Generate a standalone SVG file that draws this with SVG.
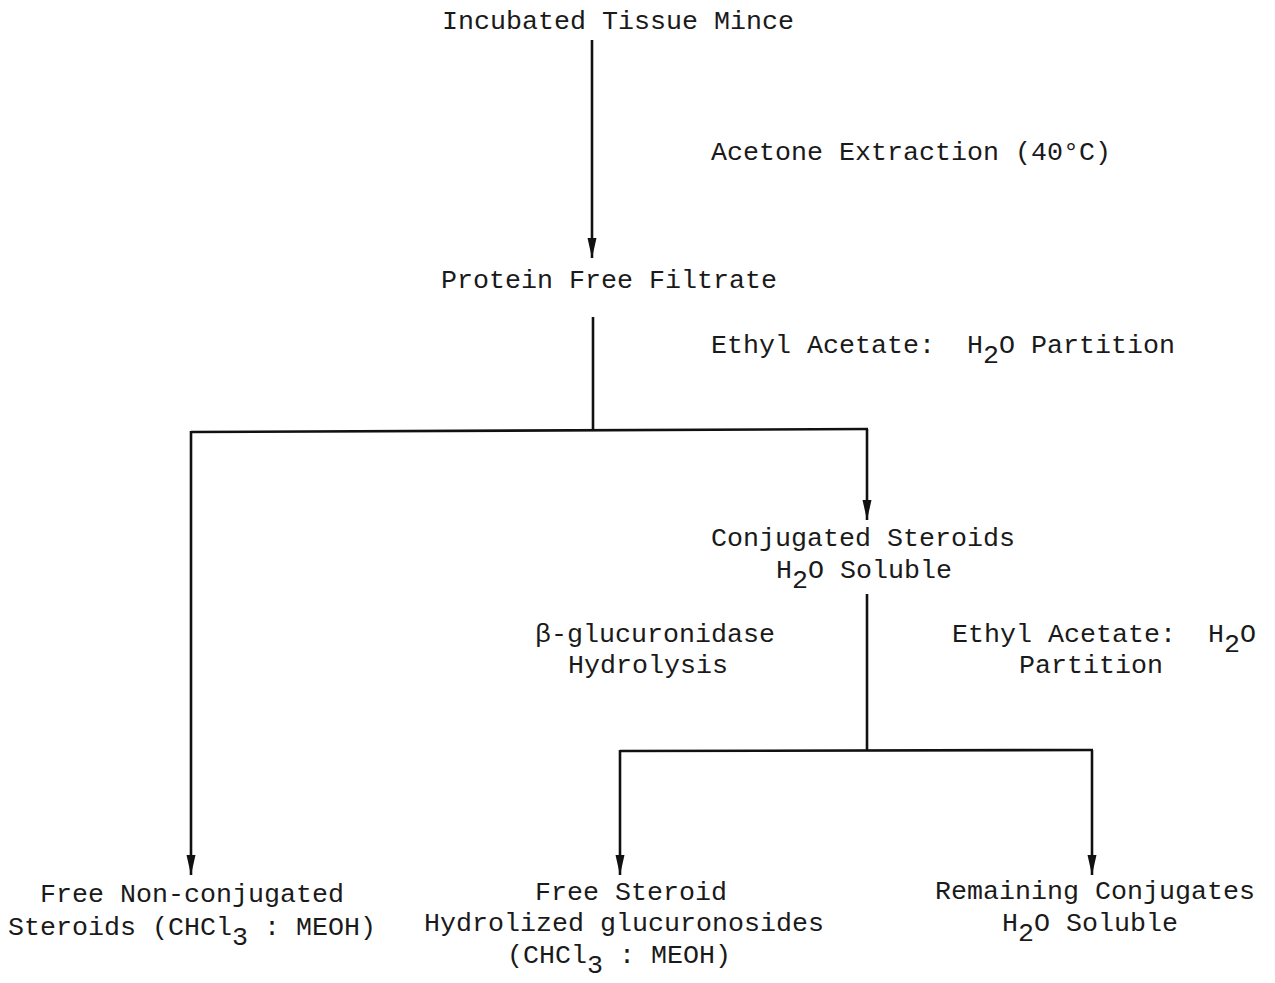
<svg xmlns="http://www.w3.org/2000/svg" width="1275" height="983" viewBox="0 0 1275 983">
<style>
text{font-family:"Liberation Mono","Courier New",monospace;font-size:26.66px;fill:#1a1a1a;white-space:pre}
.c{fill:none;stroke:#111;stroke-width:2.6}
</style>
<defs>
<marker id="ah" markerUnits="userSpaceOnUse" markerWidth="22" markerHeight="10" refX="20" refY="5" orient="auto" viewBox="0 0 22 10">
<path d="M0,0.5 L20,5 L0,9.5 Z" fill="#111"/>
</marker>
</defs>
<rect width="1275" height="983" fill="#fff"/>
<g id="connectors">
<path class="c" d="M592,40 V258" marker-end="url(#ah)"/>
<path class="c" d="M593,317 V431"/>
<path class="c" d="M191,432 L868,429"/>
<path class="c" d="M191,431 V875" marker-end="url(#ah)"/>
<path class="c" d="M867,429 V520" marker-end="url(#ah)"/>
<path class="c" d="M867,594 V750"/>
<path class="c" d="M620,751 L1093,750"/>
<path class="c" d="M620,750 V875" marker-end="url(#ah)"/>
<path class="c" d="M1092,750 V875" marker-end="url(#ah)"/>
</g>
<g id="n-tissue"><text x="442" y="29">Incubated Tissue Mince</text></g>
<g id="l-acetone"><text x="711" y="160">Acetone Extraction (40°C)</text></g>
<g id="n-filtrate"><text x="441" y="288">Protein Free Filtrate</text></g>
<g id="l-partition1"><text x="711" y="353">Ethyl Acetate:  H<tspan dy="10">2</tspan><tspan dy="-10">O Partition</tspan></text></g>
<g id="n-conjugated"><text x="711" y="546">Conjugated Steroids</text><text x="776" y="578">H<tspan dy="10">2</tspan><tspan dy="-10">O Soluble</tspan></text></g>
<g id="l-hydrolysis"><text x="535" y="642">β-glucuronidase</text><text x="568" y="673">Hydrolysis</text></g>
<g id="l-partition2"><text x="952" y="642">Ethyl Acetate:  H<tspan dy="10">2</tspan><tspan dy="-10">O</tspan></text><text x="1019" y="673">Partition</text></g>
<g id="n-free-nonconj"><text x="40" y="902">Free Non-conjugated</text><text x="8" y="935">Steroids (CHCl<tspan dy="10">3</tspan><tspan dy="-10"> : MEOH)</tspan></text></g>
<g id="n-free-steroid"><text x="535" y="900">Free Steroid</text><text x="424" y="931">Hydrolized glucuronosides</text><text x="507" y="963">(CHCl<tspan dy="10">3</tspan><tspan dy="-10"> : MEOH)</tspan></text></g>
<g id="n-remaining"><text x="935" y="899">Remaining Conjugates</text><text x="1002" y="931">H<tspan dy="10">2</tspan><tspan dy="-10">O Soluble</tspan></text></g>
</svg>
